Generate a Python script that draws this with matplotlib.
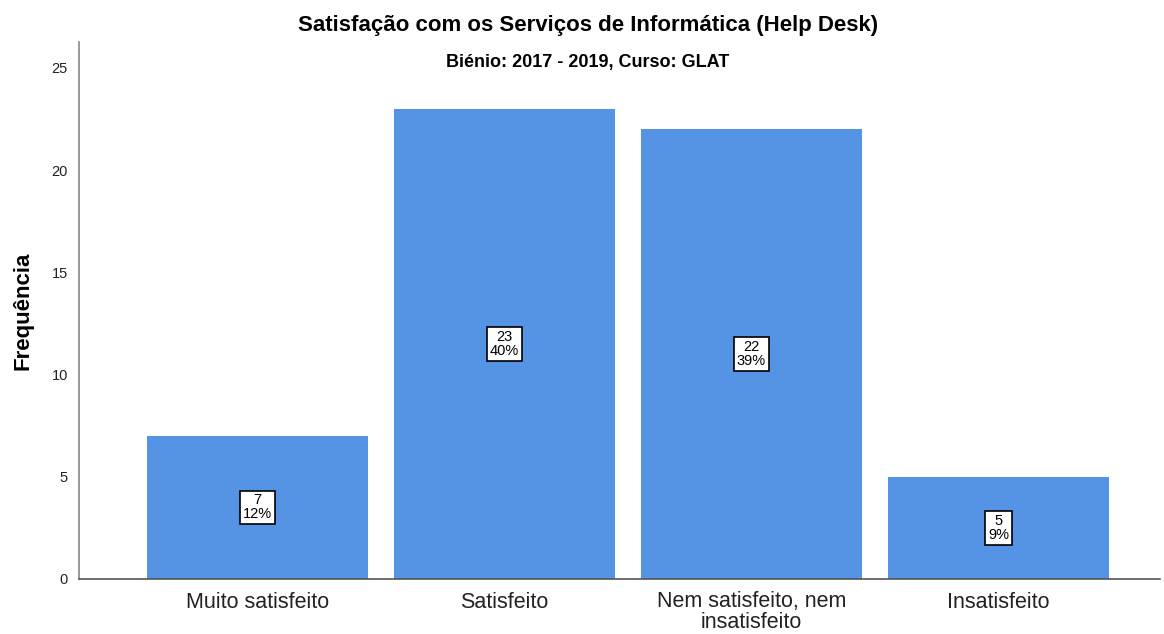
import numpy as np
import matplotlib.pyplot as plt

plt.rcParams['font.family'] = ['Liberation Sans', 'DejaVu Sans']

# Dados
categorias = ['Muito satisfeito', 'Satisfeito', 'Nem satisfeito, nem\ninsatisfeito', 'Insatisfeito']
frequencias = [7, 23, 22, 5]
percentagens = ['12%', '40%', '39%', '9%']

fig = plt.figure(figsize=(11.64, 6.34), dpi=100)
ax = fig.add_axes([79/1164, 1 - 579/634, (1160-79)/1164, (579-42)/634])

x = np.arange(len(categorias))
ax.bar(x, frequencias, width=0.895, color='#5594e4', edgecolor='none')

# Caixas com valor e percentagem
for xi, f, p in zip(x, frequencias, percentagens):
    ax.text(xi, f / 2, f"{f}\n{p}", ha='center', va='center', fontsize=10.5,
            linespacing=1.0,
            bbox=dict(boxstyle='square,pad=0.2', facecolor='white', edgecolor='black', lw=1.2))

ax.set_xlim(-0.723, 3.654)
ax.set_ylim(0, 26.27)
ax.set_yticks([0, 5, 10, 15, 20, 25])
ax.set_xticks(x)
ax.set_xticklabels(categorias, fontsize=15.5, color='#222222', linespacing=1.0)
ax.tick_params(axis='y', length=0, labelsize=10.5, colors='#222222', pad=8)
ax.tick_params(axis='x', length=0, pad=9)

for s in ['top', 'right']:
    ax.spines[s].set_visible(False)
ax.spines['left'].set_color('#888888')
ax.spines['bottom'].set_color('#555555')
ax.spines['left'].set_linewidth(1.2)
ax.spines['bottom'].set_linewidth(1.2)

ax.set_ylabel('Frequência', fontsize=16, fontweight='bold', labelpad=13)
fig.text(588/1164, 1 - 25/634, 'Satisfação com os Serviços de Informática (Help Desk)',
         ha='center', va='center', fontsize=16, fontweight='bold')
fig.text(588/1164, 1 - 63/634, 'Biénio: 2017 - 2019, Curso: GLAT',
         ha='center', va='center', fontsize=13, fontweight='bold')

fig.savefig('out.png', dpi=100)
